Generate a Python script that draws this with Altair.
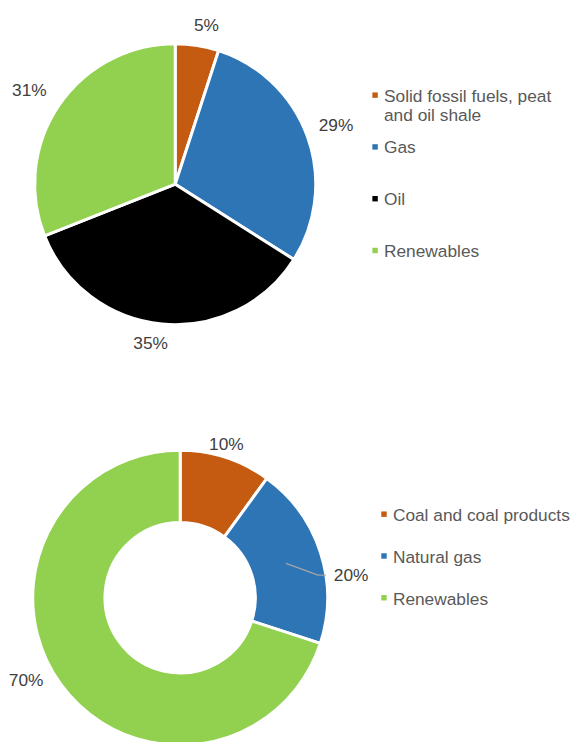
import altair as alt
import pandas as pd

# ---------------- data ----------------
top_categories = ["Solid fossil fuels, peat and oil shale", "Gas", "Oil", "Renewables"]
top_legend_labels = ["Solid fossil fuels, peat\nand oil shale", "Gas", "Oil", "Renewables"]
top_values = [5, 29, 35, 31]
top_colors = ["#C55A11", "#2E75B6", "#000000", "#92D050"]

bottom_categories = ["Coal and coal products", "Natural gas", "Renewables"]
bottom_legend_labels = ["Coal and coal products", "Natural gas", "Renewables"]
bottom_values = [10, 20, 70]
bottom_colors = ["#C55A11", "#2E75B6", "#92D050"]

# manual label placement tweaks (style): category -> (angle shift in rad, radial shift in px)
top_label_nudges = {
    "Solid fossil fuels, peat and oil shale": (0.038, 0),
    "Oil": (0.059, 0),
    "Renewables": (-0.03, 2.5),
}
bottom_label_nudges = {
    "Coal and coal products": (-0.02, -6),
    "Natural gas": (0.188, 0),
    "Renewables": (0.133, 2.5),
}
bottom_leader_cat = "Natural gas"

FONT = "Liberation Sans"
FS = 17.5
LABEL_COLOR = "#404040"
LEGEND_COLOR = "#595959"


def make_df(cats, labels, vals):
    return pd.DataFrame({"cat": cats, "legend": labels, "value": vals, "idx": list(range(len(cats)))})


def nudge_expr(nudges, pos):
    expr = "0"
    for cat, vals in nudges.items():
        expr = f"(datum.cat == '{cat}' ? {vals[pos]} : {expr})"
    return expr


def pie_panel(df, cats, colors, width, height, outer, inner, gap, nudges, leader_cat=""):
    color = alt.Color("cat:N", scale=alt.Scale(domain=cats, range=colors), legend=None)
    arcs = alt.Chart(df).mark_arc(
        outerRadius=outer, innerRadius=inner, stroke="white", strokeWidth=3
    ).encode(
        theta=alt.Theta("value:Q", stack=True),
        color=color,
        order=alt.Order("idx:Q"),
    )
    base = alt.Chart(df).transform_joinaggregate(
        total="sum(value)"
    ).transform_window(
        cum="sum(value)", sort=[alt.SortField("idx")], frame=[None, 0]
    ).transform_calculate(
        mid="(datum.cum - datum.value / 2) / datum.total * 2 * PI",
        label="datum.value + '%'",
    ).transform_calculate(
        lt=f"datum.mid + {nudge_expr(nudges, 0)}",
        halfw=f"((length(datum.label) - 1) * 0.556 + 0.889) * {FS} / 2",
    ).transform_calculate(
        lr=(f"{outer + gap} + abs(sin(datum.lt)) * datum.halfw + abs(cos(datum.lt)) * 6.5 + "
            f"{nudge_expr(nudges, 1)}"),
    )
    text = base.mark_text(
        font=FONT, fontSize=FS, color=LABEL_COLOR, align="center", baseline="middle"
    ).encode(
        theta=alt.Theta("lt:Q", scale=None),
        radius=alt.Radius("lr:Q", scale=None),
        text="label:N",
    )
    layers = [arcs, text]
    if leader_cat:
        lead = base.transform_filter(f"datum.cat == '{leader_cat}'").transform_calculate(
            ax=f"{width / 2} + {(outer + inner) / 2} * sin(datum.mid)",
            ay=f"{height / 2} - {(outer + inner) / 2} * cos(datum.mid)",
            lx=f"{width / 2} + datum.lr * sin(datum.lt)",
            ly=f"{height / 2} - datum.lr * cos(datum.lt) - 1",
        ).transform_calculate(
            ex="datum.lx - datum.halfw - 16",
            fx="datum.lx - datum.halfw - 8",
        )
        seg1 = lead.mark_rule(color="#A6A6A6", strokeWidth=1.2).encode(
            x=alt.X("ax:Q", scale=None), y=alt.Y("ay:Q", scale=None),
            x2="ex:Q", y2="ly:Q",
        )
        seg2 = lead.mark_rule(color="#A6A6A6", strokeWidth=1.2).encode(
            x=alt.X("ex:Q", scale=None), y=alt.Y("ly:Q", scale=None),
            x2="fx:Q", y2="ly:Q",
        )
        layers += [seg1, seg2]
    return alt.layer(*layers).properties(width=width, height=height)


def legend_panel(df, cats, colors, width, height, yrange, sym_x, text_x, dy):
    ysc = alt.Y("cat:N", sort=cats, axis=None,
                scale=alt.Scale(type="point", range=yrange, padding=0))
    sym = alt.Chart(df).mark_square(size=30, opacity=1).encode(
        x=alt.value(sym_x),
        y=ysc,
        color=alt.Color("cat:N", scale=alt.Scale(domain=cats, range=colors), legend=None),
    )
    txt = alt.Chart(df).mark_text(
        align="left", baseline="alphabetic", dy=dy, lineBreak="\n", lineHeight=19.5,
        font=FONT, fontSize=FS, color=LEGEND_COLOR,
    ).encode(
        x=alt.value(text_x),
        y=ysc,
        text="legend:N",
    )
    return alt.layer(sym, txt).properties(width=width, height=height)


top_df = make_df(top_categories, top_legend_labels, top_values)
bot_df = make_df(bottom_categories, bottom_legend_labels, bottom_values)

row1 = alt.hconcat(
    pie_panel(top_df, top_categories, top_colors, 338, 348, 142, 0, 12, top_label_nudges),
    legend_panel(top_df, top_categories, top_colors, 190, 348, [84, 241], 33, 42, 6.5),
    spacing=0, bounds="flush",
).resolve_scale(color="independent", y="independent")

row2 = alt.hconcat(
    pie_panel(bot_df, bottom_categories, bottom_colors, 348, 340, 149, 76, 7,
              bottom_label_nudges, leader_cat=bottom_leader_cat),
    legend_panel(bot_df, bottom_categories, bottom_colors, 180, 340, [85.5, 170], 32, 41, 7),
    spacing=0, bounds="flush",
).resolve_scale(color="independent", y="independent")

chart = alt.vconcat(row1, row2, spacing=74).resolve_scale(
    color="independent"
).properties(padding=0).configure_view(stroke=None)

chart.save("out.html", embed_options={"renderer": "svg", "actions": False})
